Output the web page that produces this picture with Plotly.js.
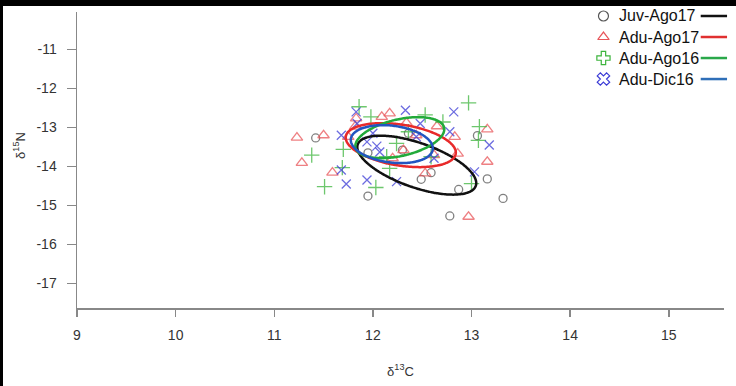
<!DOCTYPE html>
<html>
<head>
<meta charset="utf-8">
<script src="https://cdn.plot.ly/plotly-3.0.1.min.js"></script>
<style>
html,body{margin:0;padding:0;background:#000;width:736px;height:386px;overflow:hidden;}
#plot{position:absolute;left:3px;top:6px;width:733px;height:380px;background:#fff;}
</style>
</head>
<body>
<div id="plot"></div>
<script>
// ---- data (δ13C, δ15N) ----
const groupNames = ["Juv-Ago17", "Adu-Ago17", "Adu-Ago16", "Adu-Dic16"];

const juvAgo17C = [11.42, 11.95, 11.95, 12.49, 12.59, 12.87, 12.78, 13.16, 13.32, 13.06, 12.36, 12.30];
const juvAgo17N = [-13.27, -13.65, -14.76, -14.33, -14.16, -14.59, -15.27, -14.32, -14.82, -13.21, -13.15, -13.58];

const aduAgo17C = [11.23, 11.50, 11.28, 11.59, 11.83, 11.75, 12.09, 12.17, 12.31, 12.20, 12.44, 12.34, 12.65, 12.62, 12.83, 12.86, 12.53, 13.16, 13.16, 12.97, 11.82];
const aduAgo17N = [-13.26, -13.20, -13.91, -14.16, -12.77, -13.24, -12.73, -12.64, -13.58, -13.79, -13.20, -12.88, -12.97, -13.71, -13.24, -13.67, -14.18, -13.05, -13.88, -15.29, -12.98];

const aduAgo16C = [11.86, 11.98, 12.97, 12.53, 12.71, 13.08, 11.38, 11.70, 11.51, 12.03, 12.17, 12.14, 12.24, 12.36, 12.59, 13.07, 13.00, 11.69];
const aduAgo16N = [-12.47, -12.73, -12.37, -12.68, -12.86, -12.98, -13.71, -13.56, -14.52, -14.54, -14.05, -13.75, -13.41, -13.11, -13.75, -13.33, -14.44, -14.03];

const aduDic16C = [11.83, 12.33, 12.82, 11.68, 11.84, 12.00, 12.07, 12.48, 12.44, 12.78, 12.62, 13.18, 11.68, 11.73, 11.94, 12.24, 13.03, 11.94, 12.04];
const aduDic16N = [-12.60, -12.56, -12.60, -13.20, -12.90, -13.15, -13.63, -12.90, -13.24, -13.11, -13.79, -13.45, -14.09, -14.45, -14.35, -14.39, -14.14, -13.37, -13.48];

// standard ellipse parameters per group (same order as groupNames)
const ellCenterC = [12.445, 12.283, 12.273, 12.192];
const ellCenterN = [-13.967, -13.454, -13.262, -13.428];
const ellSdC = [0.603, 0.558, 0.451, 0.416];
const ellSdN = [0.756, 0.564, 0.526, 0.487];
const ellCorr = [-0.61, -0.34, 0.41, -0.22];

const xTickVals = [9, 10, 11, 12, 13, 14, 15];
const yTickVals = [-11, -12, -13, -14, -15, -16, -17];

// ---- styles ----
const markerColors = ["#555555", "#e8555a", "#3cb43c", "#3b3bd6"];
const lineColors = ["#111111", "#e82a2a", "#22aa3a", "#2255c0"];
const legendLineColors = ["#111111", "#e03030", "#2aa84a", "#2f6fb8"];
const symbols = ["circle-open", "triangle-up-open", "cross-thin-open", "x-thin-open"];
const sizes = [8, 10, 11, 9];

const xs = [juvAgo17C, aduAgo17C, aduAgo16C, aduDic16C];
const ys = [juvAgo17N, aduAgo17N, aduAgo16N, aduDic16N];

function ellipse(i) {
  const ex = [], ey = [];
  const r = ellCorr[i];
  const k = Math.sqrt(1 - r * r);
  for (let j = 0; j <= 200; j++) {
    const t = 2 * Math.PI * j / 200;
    ex.push(ellCenterC[i] + ellSdC[i] * Math.cos(t));
    ey.push(ellCenterN[i] + ellSdN[i] * (r * Math.cos(t) + k * Math.sin(t)));
  }
  return {x: ex, y: ey};
}

const traces = [];
for (let i = 0; i < 4; i++) {
  traces.push({
    type: "scatter", mode: "markers", x: xs[i], y: ys[i], name: groupNames[i],
    showlegend: false, cliponaxis: false,
    marker: {symbol: symbols[i], size: sizes[i], color: markerColors[i], opacity: 0.75,
             line: {width: 1.3, color: markerColors[i]}}
  });
}
for (let i = 0; i < 4; i++) {
  const e = ellipse(i);
  traces.push({
    type: "scatter", mode: "lines", x: e.x, y: e.y, showlegend: false, hoverinfo: "skip",
    line: {color: lineColors[i], width: 2.5, shape: "spline"}
  });
}

// custom legend (marker left, text, line right) on an overlay axis in plot fractions
const legX = 0.8137;
const legRows = [0.9865, 0.9155, 0.8445, 0.7735];
for (let i = 0; i < 4; i++) {
  traces.push({
    type: "scatter", mode: "markers", x: [legX], y: [legRows[i]], xaxis: "x2", yaxis: "y2",
    showlegend: false, cliponaxis: false, hoverinfo: "skip",
    marker: {symbol: i === 2 ? "cross-open" : (i === 3 ? "x-open" : symbols[i]), size: i >= 2 ? 11 : 10,
             color: markerColors[i], line: {width: 1.2, color: i === 3 ? "#5a8fd0" : (i === 2 ? "#4cb86a" : markerColors[i])}}
  });
}

const titleFont = {family: "Liberation Sans, Arial, sans-serif", size: 13, color: "#333"};

const annotations = groupNames.map((g, i) => ({
  xref: "paper", yref: "paper", x: 0.835, y: legRows[i], xanchor: "left", yanchor: "middle",
  text: g, showarrow: false, font: {family: "Liberation Sans, Arial, sans-serif", size: 16, color: "#111"}
}));
// y-axis title placed as a rotated annotation
annotations.push({
  xref: "paper", yref: "paper", x: -0.0886, y: 0.55, xanchor: "center", yanchor: "middle",
  textangle: -90, text: "δ<sup>15</sup>N", showarrow: false, font: titleFont
});

const shapes = legendLineColors.map((c, i) => ({
  type: "line", xref: "paper", yref: "paper", x0: 0.964, x1: 1.0047, y0: legRows[i], y1: legRows[i],
  line: {color: c, width: 2.5}
}));

const axisFont = {family: "Liberation Sans, Arial, sans-serif", size: 14, color: "#333"};

const layout = {
  width: 733, height: 380,
  margin: {l: 74, r: 12, t: 6, b: 78, pad: 0},
  paper_bgcolor: "#fff", plot_bgcolor: "#fff",
  showlegend: false,
  xaxis: {
    range: [9, 15.56], tickvals: xTickVals, ticktext: xTickVals.map(String),
    showgrid: false, zeroline: false, showline: true, linecolor: "#888", linewidth: 1.5,
    ticks: "outside", ticklen: 7, tickcolor: "#888", tickwidth: 1.5, ticklabelstandoff: 7,
    tickfont: axisFont,
    title: {text: "δ<sup>13</sup>C", font: titleFont, standoff: 24}
  },
  yaxis: {
    range: [-17.63, -10.04], tickvals: yTickVals, ticktext: yTickVals.map(v => "-" + Math.abs(v)),
    showgrid: false, zeroline: false, showline: true, linecolor: "#888", linewidth: 1.5,
    ticks: "outside", ticklen: 9, tickcolor: "#888", tickwidth: 1.5, ticklabelstandoff: 7,
    tickfont: axisFont
  },
  xaxis2: {overlaying: "x", range: [0, 1], visible: false},
  yaxis2: {overlaying: "y", range: [0, 1], visible: false},
  annotations: annotations,
  shapes: shapes
};

Plotly.newPlot("plot", traces, layout, {displayModeBar: false, staticPlot: true});
</script>
</body>
</html>
